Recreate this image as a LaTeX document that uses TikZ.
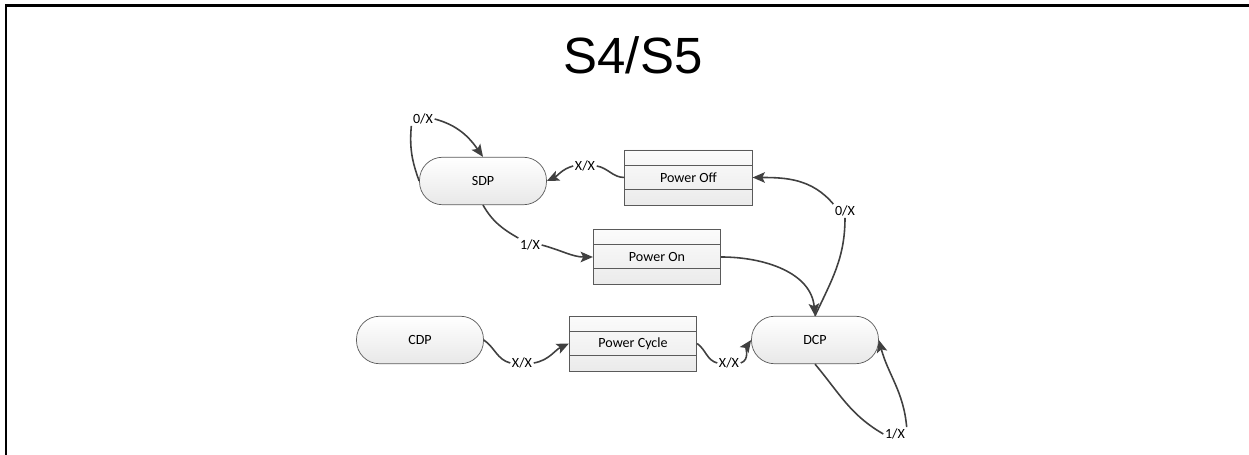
\documentclass[tikz,border=0pt]{standalone}
\usepackage{fontspec}
\setmainfont{Carlito}
\newfontfamily\titlefont{Liberation Sans}
\usepackage{tikz}
\usetikzlibrary{arrows, arrows.meta, positioning}
\usepackage{xcolor}
\definecolor{edgegray}{HTML}{404040}
\definecolor{bordergray}{HTML}{5A5A5A}

\begin{document}
\begin{tikzpicture}[x=0.02cm, y=-0.02cm, ->, >={Stealth[length=7pt, width=6pt, inset=1.5pt]}]
    \tikzstyle{state} = [draw=bordergray, top color=white, bottom color=gray!18, rounded corners=0.46cm, minimum width=2.54cm, minimum height=0.95cm, font=\fontsize{8}{10}\selectfont, text=black]
    \tikzstyle{opbox} = [draw=bordergray, top color=gray!3, bottom color=gray!16, minimum width=2.55cm, minimum height=1.1cm, font=\fontsize{8}{10}\selectfont, text=black,
        path picture={\draw[bordergray, -] ([yshift=-0.3cm]path picture bounding box.north west) -- ([yshift=-0.3cm]path picture bounding box.north east);
            \draw[bordergray, -] ([yshift=0.32cm]path picture bounding box.south west) -- ([yshift=0.32cm]path picture bounding box.south east);}]
    \tikzstyle{trans} = [fill=white, inner sep=0.8pt, font=\fontsize{8}{10}\selectfont, text=black]
    \tikzstyle{link} = [draw=edgegray, line width=0.9pt]
    \useasboundingbox (0,0) rectangle (1249,455);
    \draw[-, line width=1.7pt] (6,455) -- (6,6) -- (1249,6);
    \node [anchor=base, font=\titlefont\fontsize{29}{34}\selectfont] at (633,74) (title) {S4/S5};
    % states
    \node [state] at (483,181) (sdp) {SDP};
    \node [state] at (420,340) (cdp) {CDP};
    \node [state] at (815,340) (dcp) {DCP};
    % operations
    \node [opbox] at (688.5,177.5) (poff) {Power Off};
    \node [opbox] at (657,257) (pon) {Power On};
    \node [opbox] at (633,343.5) (pcyc) {Power Cycle};
    % transition labels
    \node [trans] at (423,119) (sdpself) {0/X};
    \node [trans] at (585,166) (offsdp) {X/X};
    \node [trans] at (530,245) (sdpon) {1/X};
    \node [trans] at (845,211) (dcpoff) {0/X};
    \node [trans] at (522,363) (cdpcyc) {X/X};
    \node [trans] at (729,363) (cycdcp) {X/X};
    \node [trans] at (895,434) (dcpself) {1/X};
    % transitions
    \draw[link, -] (sdp.west) to[out=110, in=-95] (sdpself.south west);
    \draw[link] (sdpself.east) to[out=-15, in=125] (sdp.north);
    \draw[link, -] (poff.west) to[out=180, in=-10] (offsdp.east);
    \draw[link] (offsdp.west) to[out=195, in=25] (sdp.east);
    \draw[link, -] (sdp.south) to[out=-60, in=150] (sdpon.north west);
    \draw[link] (sdpon.east) to[out=-15, in=180] (pon.west);
    \draw[link] (pon.east) to[out=0, in=95] (dcp.north);
    \draw[link, -] (dcp.north) to[out=65, in=-90] (dcpoff.south);
    \draw[link] (dcpoff.north west) to[out=130, in=0] (poff.east);
    \draw[link, -] (cdp.east) to[out=-35, in=165] (cdpcyc.west);
    \draw[link] (cdpcyc.east) to[out=10, in=205] (pcyc.west);
    \draw[link, -] (pcyc.east) to[out=-35, in=165] (cycdcp.west);
    \draw[link] (cycdcp.east) to[out=20, in=235] (dcp.west);
    \draw[link, -] (dcp.south) to[out=-50, in=150] (dcpself.west);
    \draw[link] (dcpself.north east) to[out=95, in=-75] (dcp.east);
\end{tikzpicture}
\end{document}
